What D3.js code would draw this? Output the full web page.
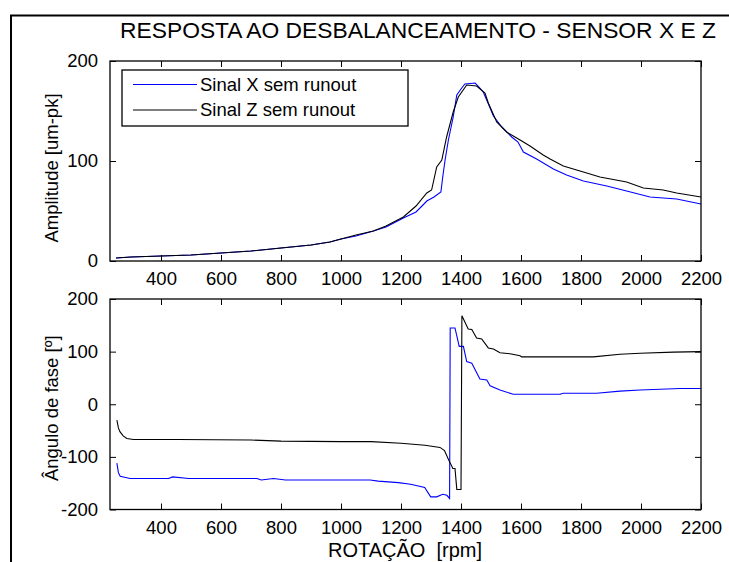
<!DOCTYPE html>
<html>
<head>
<meta charset="utf-8">
<script src="https://cdn.jsdelivr.net/npm/d3@7"></script>
<style>
  html, body { margin: 0; padding: 0; background: #fff; }
  svg { display: block; font-family: "Liberation Sans", Arial, sans-serif; }
</style>
</head>
<body>
<svg id="chart" width="729" height="562"></svg>
<script>
// Unbalance response, sensors X and Z (no runout)
const titleText = "RESPOSTA AO DESBALANCEAMENTO - SENSOR X E Z";
const seriesNames = ["Sinal X sem runout", "Sinal Z sem runout"];
const seriesColors = ["#0000ff", "#000000"];

const xTicks = [400, 600, 800, 1000, 1200, 1400, 1600, 1800, 2000, 2200];
const ampTicks = [0, 100, 200];
const phaseTicks = [-200, -100, 0, 100, 200];

// Amplitude [um-pk], sensor X
const ampRpmX = [250, 300, 400, 500, 600, 700, 800, 900, 963, 1000, 1050, 1108, 1150, 1208, 1250, 1270, 1286, 1310, 1333, 1340, 1347, 1358, 1374, 1386, 1400, 1413, 1447, 1460, 1474, 1490, 1508, 1536, 1569, 1590, 1608, 1652, 1708, 1752, 1808, 1886, 1952, 2030, 2119, 2200];
const ampX    = [3, 4, 5, 6, 8, 10, 13, 16, 19, 22, 25, 30, 34, 43, 49, 55, 60, 64, 69, 86, 101, 121, 144, 166, 172, 177, 178, 174, 169, 158, 145, 134, 124, 119, 109, 102, 92, 86, 80, 75, 70, 64, 62, 57];

// Amplitude [um-pk], sensor Z
const ampRpmZ = [250, 300, 400, 500, 600, 700, 800, 900, 963, 1000, 1050, 1108, 1150, 1208, 1250, 1286, 1302, 1319, 1336, 1352, 1374, 1391, 1419, 1452, 1480, 1491, 1519, 1552, 1597, 1630, 1674, 1697, 1741, 1808, 1863, 1952, 2008, 2074, 2119, 2200];
const ampZ    = [3, 4, 5, 6, 8, 10, 13, 16, 19, 22, 26, 30, 35, 44, 55, 68, 71, 94, 101, 124, 149, 164, 176, 175, 168, 158, 139, 129, 121, 115, 106, 102, 95, 89, 84, 79, 73, 71, 68, 64];

// Phase angle [deg], sensor X
const phaseRpmX = [253, 258, 264, 297, 425, 439, 492, 720, 734, 775, 815, 1097, 1124, 1191, 1232, 1279, 1299, 1319, 1339, 1353, 1362, 1364, 1369, 1380, 1394, 1408, 1419, 1436, 1463, 1486, 1497, 1530, 1574, 1730, 1741, 1852, 1930, 1997, 2130, 2200];
const phaseX    = [-112, -130, -137, -141, -141, -138, -141, -141, -144, -141, -144, -144, -146, -149, -152, -158, -176, -176, -171, -173, -179, 145, 145, 145, 110, 110, 81, 78, 48, 46, 35, 27, 19, 19, 21, 21, 25, 27, 30, 30];

// Phase angle [deg], sensor Z
const phaseRpmZ = [253, 258, 263, 274, 286, 308, 457, 700, 800, 1000, 1100, 1200, 1280, 1330, 1345, 1359, 1373, 1380, 1386, 1400, 1403, 1424, 1436, 1452, 1469, 1491, 1508, 1530, 1563, 1597, 1602, 1841, 1930, 1997, 2108, 2200];
const phaseZ    = [-30, -45, -52, -60, -65, -67, -67, -68, -70, -71, -71, -74, -78, -82, -88, -106, -122, -122, -162, -162, 168, 143, 142, 126, 124, 107, 105, 98, 96, 92, 90, 90, 95, 97, 99, 100];

const svg = d3.select("#chart");
const FONT = 18.5;
const LABEL_FONT = 20;
const fmt = d => String(d);   // plain hyphen for negatives, no thousands separator

// outer figure frame
svg.append("path")
  .attr("d", "M11,562 L11,15.5 L729,15.5")
  .attr("fill", "none").attr("stroke", "#000").attr("stroke-width", 2);

const plotLeft = 110, plotRight = 701;
const x = d3.scaleLinear().domain([230, 2200]).range([plotLeft, plotRight]);

function drawAxes(g, y, yTicks, top, bottom) {
  const tickLen = 6;
  // bottom axis with inward ticks
  g.append("g").attr("transform", `translate(0,${bottom})`)
    .call(d3.axisBottom(x).tickValues(xTicks).tickFormat(fmt).tickSizeInner(-tickLen).tickSizeOuter(0).tickPadding(11))
    .call(a => a.select(".domain").remove());
  // top axis, ticks only
  g.append("g").attr("transform", `translate(0,${top})`)
    .call(d3.axisTop(x).tickValues(xTicks).tickSizeInner(-tickLen).tickSizeOuter(0).tickFormat(""))
    .call(a => a.select(".domain").remove());
  // left axis
  g.append("g").attr("transform", `translate(${plotLeft},0)`)
    .call(d3.axisLeft(y).tickValues(yTicks).tickFormat(fmt).tickSizeInner(-tickLen).tickSizeOuter(0).tickPadding(12))
    .call(a => a.select(".domain").remove());
  // right axis, ticks only
  g.append("g").attr("transform", `translate(${plotRight},0)`)
    .call(d3.axisRight(y).tickValues(yTicks).tickSizeInner(-tickLen).tickSizeOuter(0).tickFormat(""))
    .call(a => a.select(".domain").remove());
  g.selectAll(".tick text").attr("font-size", FONT).attr("font-family", "Liberation Sans, Arial, sans-serif").attr("fill", "#000");
  g.selectAll(".tick line").attr("stroke", "#000");
  g.append("rect")
    .attr("x", plotLeft).attr("y", top)
    .attr("width", plotRight - plotLeft).attr("height", bottom - top)
    .attr("fill", "none").attr("stroke", "#000").attr("stroke-width", 1.3);
}

function drawSeries(g, y, rpm, vals, color) {
  const pts = rpm.map((r, i) => [r, vals[i]]);
  g.append("path")
    .datum(pts)
    .attr("fill", "none")
    .attr("stroke", color)
    .attr("stroke-width", 1.1)
    .attr("d", d3.line().x(d => x(d[0])).y(d => y(d[1])));
}

// ---- amplitude panel ----
const top1 = 61, bottom1 = 261;
const yAmp = d3.scaleLinear().domain([0, 200]).range([bottom1, top1]);
const g1 = svg.append("g");
drawSeries(g1, yAmp, ampRpmX, ampX, seriesColors[0]);
drawSeries(g1, yAmp, ampRpmZ, ampZ, seriesColors[1]);
drawAxes(g1, yAmp, ampTicks, top1, bottom1);

// legend
const lg = g1.append("g");
lg.append("rect").attr("x", 122).attr("y", 70).attr("width", 286).attr("height", 56)
  .attr("fill", "#fff").attr("stroke", "#000").attr("stroke-width", 1.3);
seriesNames.forEach((name, i) => {
  const ly = 84.5 + i * 25.5;
  lg.append("line").attr("x1", 133).attr("x2", 197).attr("y1", ly).attr("y2", ly)
    .attr("stroke", seriesColors[i]).attr("stroke-width", 1.1);
  lg.append("text").attr("x", 200).attr("y", ly).attr("dy", "0.35em")
    .attr("font-size", FONT).text(name);
});

// ---- phase panel ----
const top2 = 299, bottom2 = 509.5;
const yPh = d3.scaleLinear().domain([-200, 200]).range([bottom2, top2]);
const g2 = svg.append("g");
drawSeries(g2, yPh, phaseRpmX, phaseX, seriesColors[0]);
drawSeries(g2, yPh, phaseRpmZ, phaseZ, seriesColors[1]);
drawAxes(g2, yPh, phaseTicks, top2, bottom2);

// titles and axis labels
svg.append("text").attr("x", 418).attr("y", 38).attr("text-anchor", "middle")
  .attr("font-size", 22.8).text(titleText);
svg.append("text").attr("transform", `translate(58,${(top1 + bottom1) / 2 + 7}) rotate(-90)`)
  .attr("text-anchor", "middle").attr("font-size", FONT).text("Amplitude [um-pk]");
svg.append("text").attr("transform", `translate(58,${(top2 + bottom2) / 2 + 4}) rotate(-90)`)
  .attr("text-anchor", "middle").attr("font-size", FONT).text("Ângulo de fase [º]");
svg.append("text").attr("x", 405).attr("y", 557).attr("text-anchor", "middle")
  .attr("font-size", LABEL_FONT).style("white-space", "pre").text("ROTAÇÃO  [rpm]");
</script>
</body>
</html>
